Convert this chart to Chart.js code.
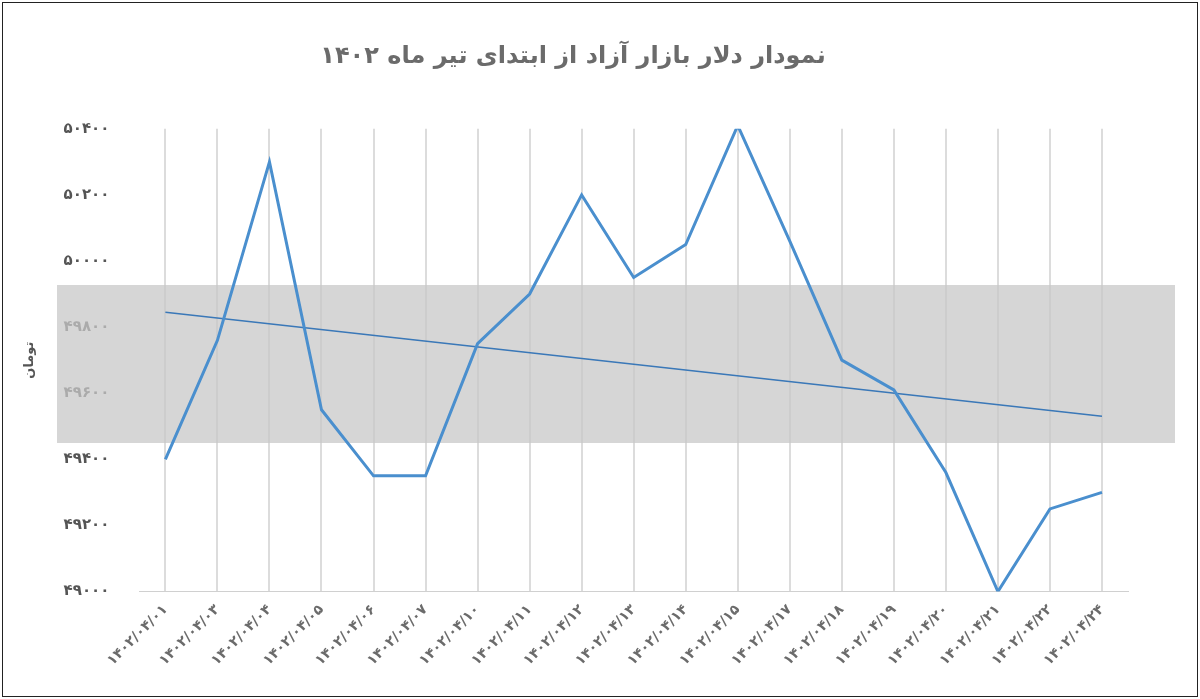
<!DOCTYPE html>
<html lang="fa">
<head>
<meta charset="UTF-8">
<title>نمودار دلار بازار آزاد</title>
<script src="https://cdn.jsdelivr.net/npm/chart.js"></script>
<style>
    body { margin: 0; background: #fff; }
    .frame { position: absolute; left: 2px; top: 2px; width: 1194px; height: 693px; border: 1px solid #222; }
    canvas { position: absolute; left: 0; top: 0; }
</style>
</head>
<body>
<div class="frame"></div>
<canvas id="c" width="1200" height="699"></canvas>
<script>
    const dates = ['۱۴۰۲/۰۴/۰۱', '۱۴۰۲/۰۴/۰۳', '۱۴۰۲/۰۴/۰۴', '۱۴۰۲/۰۴/۰۵', '۱۴۰۲/۰۴/۰۶', '۱۴۰۲/۰۴/۰۷', '۱۴۰۲/۰۴/۱۰',
        '۱۴۰۲/۰۴/۱۱', '۱۴۰۲/۰۴/۱۲', '۱۴۰۲/۰۴/۱۳', '۱۴۰۲/۰۴/۱۴', '۱۴۰۲/۰۴/۱۵', '۱۴۰۲/۰۴/۱۷', '۱۴۰۲/۰۴/۱۸',
        '۱۴۰۲/۰۴/۱۹', '۱۴۰۲/۰۴/۲۰', '۱۴۰۲/۰۴/۲۱', '۱۴۰۲/۰۴/۲۲', '۱۴۰۲/۰۴/۲۴'];
    const prices = [49400, 49760, 50300, 49550, 49350, 49350, 49750, 49900, 50200, 49950, 50050, 50410,
        50060, 49700, 49610, 49360, 49000, 49250, 49300];
    // trend line endpoints
    const trend = [49845, null, null, null, null, null, null, null, null, null, null, null, null, null, null, null, null, null, 49530];

    const toFa = n => String(n).replace(/\d/g, d => '۰۱۲۳۴۵۶۷۸۹'[d]);

    // gray watermark band behind the lines
    const bandPlugin = {
        id: 'band',
        beforeDatasetsDraw(chart) {
            const ctx = chart.ctx;
            ctx.save();
            ctx.fillStyle = 'rgba(200,200,200,0.75)';
            ctx.fillRect(57, 285, 1118, 158);
            ctx.restore();
        }
    };

    new Chart(document.getElementById('c'), {
        type: 'line',
        data: {
            labels: dates,
            datasets: [{
                data: prices,
                borderColor: '#4a8fce',
                borderWidth: 3,
                pointRadius: 0,
                tension: 0
            }, {
                data: trend,
                borderColor: '#3a78b8',
                borderWidth: 1.5,
                pointRadius: 0,
                spanGaps: true
            }]
        },
        options: {
            responsive: false,
            animation: false,
            layout: { padding: { left: 18, right: 72, top: 12, bottom: 20 } },
            plugins: {
                legend: { display: false },
                title: {
                    display: true,
                    text: 'نمودار دلار بازار آزاد از ابتدای تیر ماه ۱۴۰۲',
                    color: '#6b6b6b',
                    font: { family: 'DejaVu Sans', size: 24, weight: 'bold' },
                    padding: { top: 30, bottom: 58 }
                }
            },
            scales: {
                x: {
                    offset: true,
                    grid: { color: '#dcdcdc', lineWidth: 2, drawTicks: false },
                    border: { color: '#d0d0d0' },
                    ticks: {
                        color: '#6b6b6b', maxRotation: 45, minRotation: 45, padding: 10,
                        font: { family: 'DejaVu Sans', size: 14, weight: 'bold' }
                    }
                },
                y: {
                    min: 49000, max: 50400,
                    grid: { display: false },
                    border: { display: false },
                    ticks: {
                        stepSize: 200, padding: 22, color: '#555',
                        font: { family: 'DejaVu Sans', size: 15, weight: 'bold' },
                        callback: v => toFa(v)
                    },
                    title: {
                        display: true, text: 'تومان', color: '#555',
                        font: { family: 'DejaVu Sans', size: 13, weight: 'bold' }
                    }
                }
            }
        },
        plugins: [bandPlugin]
    });
</script>
</body>
</html>
